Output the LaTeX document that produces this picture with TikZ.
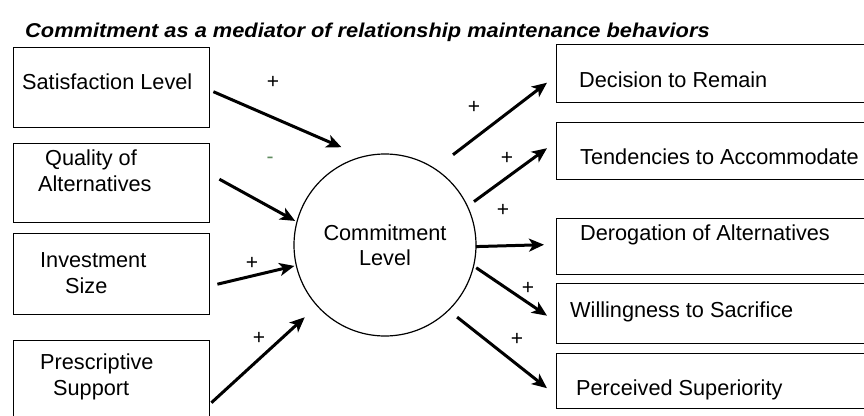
\documentclass[tikz,border=0pt]{standalone}
\usepackage{fontspec}
\setmainfont{Liberation Sans}
\usetikzlibrary{arrows.meta, calc}

\definecolor{minusgreen}{RGB}{95,140,95}

\tikzset{
  lbox/.style = {draw, line width=1.4pt, minimum width=196pt, anchor=north west, inner sep=0pt},
  rbox/.style = {draw, line width=1.4pt, minimum width=330pt, anchor=north west, inner sep=0pt},
  txt/.style = {anchor=base west, inner sep=0pt, align=left, font=\fontsize{21.7}{26}\selectfont},
  sign/.style = {inner sep=0pt, font=\fontsize{21}{24}\selectfont},
  arr/.style = {line width=3pt, -{Stealth[length=15pt, width=13pt, inset=4pt]}},
}

\begin{document}
\begin{tikzpicture}[x=1pt, y=-1pt]
\useasboundingbox (0,0) rectangle (864,415);

% title
\node[anchor=base west, inner sep=0pt, xscale=1.09, transform shape,
      font=\fontsize{20}{24}\selectfont\bfseries\itshape] (title) at (25,37)
  {Commitment as a mediator of relationship maintenance behaviors};

% predictors
\node[lbox, minimum height=80] (sat) at (13,47) {};
\node[lbox, minimum height=79] (qual) at (13,143) {};
\node[lbox, minimum height=81] (inv) at (13,233) {};
\node[lbox, minimum height=110] (pres) at (13,340) {};
\node[txt] (sat-t) at (22,89) {Satisfaction Level};
\node[txt] (qual-t) at (38,191) {\hspace*{7pt}Quality of\\Alternatives};
\node[txt] (inv-t) at (40,293) {Investment\\\hspace*{25pt}Size};
\node[txt] (pres-t) at (40,395) {Prescriptive\\\hspace*{13pt}Support};

% mediator
\node[draw, circle, line width=1.2pt, minimum size=182pt, inner sep=0pt, align=center,
      font=\fontsize{21.7}{25}\selectfont] (cl) at (385,245) {Commitment\\Level};

% outcomes
\node[rbox, minimum height=58] (dec) at (556,44) {};
\node[rbox, minimum height=57] (ten) at (556,122) {};
\node[rbox, minimum height=56] (der) at (556,218) {};
\node[rbox, minimum height=60] (wil) at (556,283) {};
\node[rbox, minimum height=55] (per) at (556,353) {};
\node[txt] (dec-t) at (579,87) {Decision to Remain};
\node[txt] (ten-t) at (580,164) {Tendencies to Accommodate};
\node[txt] (der-t) at (580,240) {Derogation of Alternatives};
\node[txt] (wil-t) at (570,317) {Willingness to Sacrifice};
\node[txt] (per-t) at (576,395) {Perceived Superiority};

% arrows in
\draw[arr] ([shift={(3,4)}]sat.east) -- ($(cl)+(-114:107)$);
\draw[arr] ([shift={(9,-4)}]qual.east) -- ($(cl)+(-165:93)$);
\draw[arr] ([shift={(7,10)}]inv.east) -- ($(cl)+(167:93)$);
\draw[arr] ([shift={(1,7)}]pres.east) -- ($(cl)+(138:108)$);
\node[sign] (s1) at (273,82) {+};
\node[sign, text=minusgreen] (s2) at (270,160) {-};
\node[sign] (s3) at (252,263) {+};
\node[sign] (s4) at (259,338) {+};

% arrows out
\draw[arr] ($(cl)+(-53:113)$) -- ([shift={(-9,9)}]dec.west);
\draw[arr] ($(cl)+(-26:99)$) -- ([shift={(-9,-3)}]ten.west);
\draw[arr] ($(cl)+(1:91)$) -- ([shift={(-12,-2)}]der.west);
\draw[arr] ($(cl)+(14:94)$) -- ([shift={(-9,2)}]wil.west);
\draw[arr] ($(cl)+(45:102)$) -- ([shift={(-9,7)}]per.west);
\node[sign] (s5) at (474,107) {+};
\node[sign] (s6) at (507,158) {+};
\node[sign] (s7) at (503,210) {+};
\node[sign] (s8) at (528,288) {+};
\node[sign] (s9) at (517,339) {+};
\end{tikzpicture}
\end{document}
